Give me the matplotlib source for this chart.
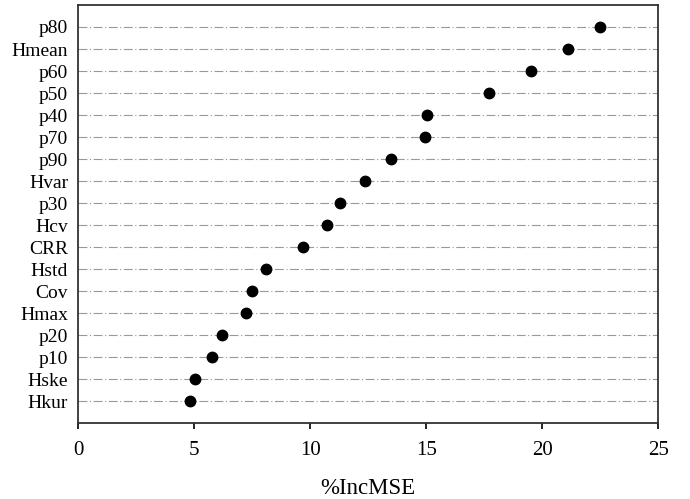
import matplotlib.pyplot as plt

plt.rcParams['font.family'] = ['Liberation Serif', 'DejaVu Serif']

# variables, top to bottom
names = ['p80', 'Hmean', 'p60', 'p50', 'p40', 'p70', 'p90', 'Hvar', 'p30',
         'Hcv', 'CRR', 'Hstd', 'Cov', 'Hmax', 'p20', 'p10', 'Hske', 'Hkur']
inc_mse = [22.5, 21.1, 19.5, 17.7, 15.05, 14.97, 13.5, 12.37, 11.3,
           10.75, 9.7, 8.1, 7.5, 7.24, 6.2, 5.78, 5.04, 4.83]

fig = plt.figure(figsize=(6.9, 4.99), dpi=100)
fig.set_facecolor('white')
ax = fig.add_axes([0.113, 0.152, 0.841, 0.838])

ypos = list(range(len(names), 0, -1))
ax.plot(inc_mse, ypos, 'o', color='black', markersize=7.5, zorder=3)

ax.set_yticks(ypos)
ax.set_yticklabels(names, fontsize=14)
ax.grid(axis='y', color='#999999', linewidth=0.8, linestyle=(0, (8, 2.3, 1, 2.3)))
ax.set_axisbelow(True)

ax.set_xlim(0, 25)
ax.set_ylim(0, 19)
ax.set_xticks([0, 5, 10, 15, 20, 25])
ax.tick_params(axis='x', labelsize=15, length=4, width=1.2, direction='out', pad=9)
ax.tick_params(axis='y', length=0, pad=7)

for s in ax.spines.values():
    s.set_linewidth(1.3)
    s.set_color('#333333')

ax.set_xlabel('%IncMSE', fontsize=16.5, labelpad=13)

fig.savefig('out.png', dpi=100)
